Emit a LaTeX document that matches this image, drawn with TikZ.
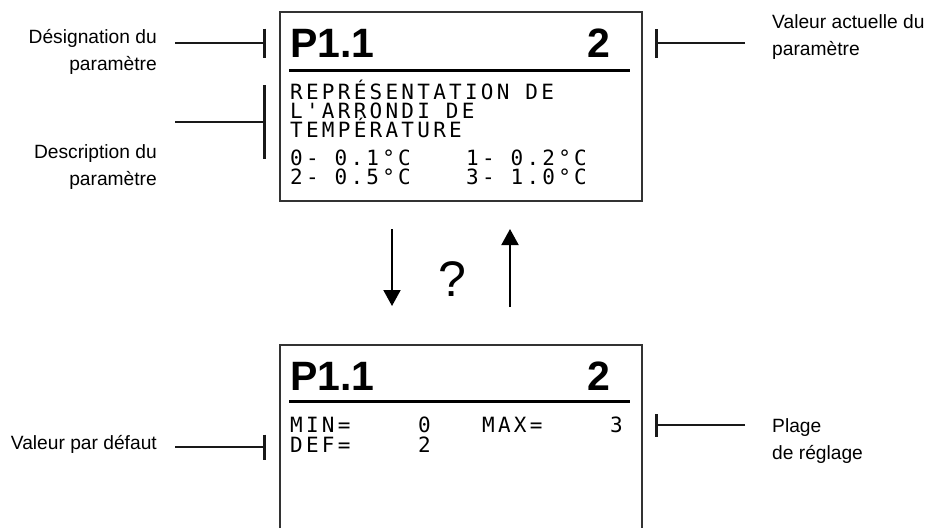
\documentclass[tikz,border=0pt]{standalone}
\usepackage{fontspec}
\setmainfont{Liberation Sans}
\newfontfamily\lcdfont[LetterSpace=15.5]{DejaVu Sans Mono}
\usepackage{tikz}
\usetikzlibrary{arrows.meta}

\begin{document}
\begin{tikzpicture}[x=1pt, y=-1pt,
        >={Triangle[width=17pt,length=16pt]},   %Pfeilspitzen
        label/.style={font=\fontsize{19.2}{26.5}\selectfont, inner sep=0pt},
        lcd/.style={font=\fontsize{21}{21}\lcdfont, inner sep=0pt, anchor=base west},
        lcdbig/.style={font=\fontsize{41}{41}\selectfont\bfseries, inner sep=0pt},
        leader/.style={line width=1.7pt, color=black!90, -{Bar[width=#1,line width=3pt]}},
        screen/.style={draw=black!80, line width=1.3pt}]
        \useasboundingbox (0,0) rectangle (929,528);
        % Anzeigen zeichnen
        \draw[screen] (280,12) rectangle (642,201);
        \draw[screen] (280,528) -- (280,345) -- (642,345) -- (642,528);
        \draw[line width=3pt] (289,70.5) -- (630,70.5);
        \draw[line width=3pt] (289,401.5) -- (630,401.5);
        % Obere Anzeige
        \node[lcdbig, anchor=base west] (par1) at (290,57) {P1.1};
        \node[lcdbig, anchor=base east] (val1) at (610,57) {2};
        \foreach \i/\txt/\yy in {1/REPRÉSENTATION DE/99, 2/L'ARRONDI DE/118, 3/TEMPÉRATURE/137}
            \node[lcd] (desc\i) at (290,\yy) {\txt};
        \node[lcd] (optA) at (290,165) {0- 0.1°C};
        \node[lcd] (optB) at (466,165) {1- 0.2°C};
        \node[lcd] (optC) at (290,184) {2- 0.5°C};
        \node[lcd] (optD) at (466,184) {3- 1.0°C};
        % Untere Anzeige
        \node[lcdbig, anchor=base west] (par2) at (290,390) {P1.1};
        \node[lcdbig, anchor=base east] (val2) at (610,390) {2};
        \node[lcd] (minK) at (290,432) {MIN=};
        \node[lcd] (minV) at (418,432) {0};
        \node[lcd] (maxK) at (482,432) {MAX=};
        \node[lcd] (maxV) at (610,432) {3};
        \node[lcd] (defK) at (290,452) {DEF=};
        \node[lcd] (defV) at (418,452) {2};
        % Beschriftung (Grundlinie der letzten Zeile)
        \node[label, align=right, anchor=base east] (desig) at (157,70) {Désignation du\\paramètre};
        \node[label, align=right, anchor=base east] (descr) at (157,185) {Description du\\paramètre};
        \node[label, align=left, anchor=base west] (actual) at (772,55) {Valeur actuelle du\\paramètre};
        \node[label, anchor=base east] (defval) at (157,449) {Valeur par défaut};
        \node[label, align=left, anchor=base west] (range) at (772,459) {Plage\\de réglage};
        % Hinweislinien
        \coordinate (desigA) at (175,43);   \coordinate (desigB) at (265.5,43);
        \coordinate (descrA) at (175,122);  \coordinate (descrB) at (265.5,122);
        \coordinate (actualA) at (745,43);  \coordinate (actualB) at (654.5,43);
        \coordinate (defvalA) at (175,447); \coordinate (defvalB) at (265.5,447);
        \coordinate (rangeA) at (745,425);  \coordinate (rangeB) at (654.5,425);
        \draw[leader=29pt] (desigA) -- (desigB);
        \draw[leader=74pt] (descrA) -- (descrB);
        \draw[leader=29pt] (actualA) -- (actualB);
        \draw[leader=25pt] (defvalA) -- (defvalB);
        \draw[leader=23pt] (rangeA) -- (rangeB);
        % Pfeile
        \coordinate (downA) at (392,229); \coordinate (downB) at (392,306);
        \coordinate (upA) at (510,307);   \coordinate (upB) at (510,229);
        \draw[->, line width=2pt] (downA) -- (downB);
        \draw[->, line width=2pt] (upA) -- (upB);
        \node[font=\fontsize{50}{50}\selectfont, inner sep=0pt, anchor=base] (ask) at (452,296) {?};
    \end{tikzpicture}
\end{document}
